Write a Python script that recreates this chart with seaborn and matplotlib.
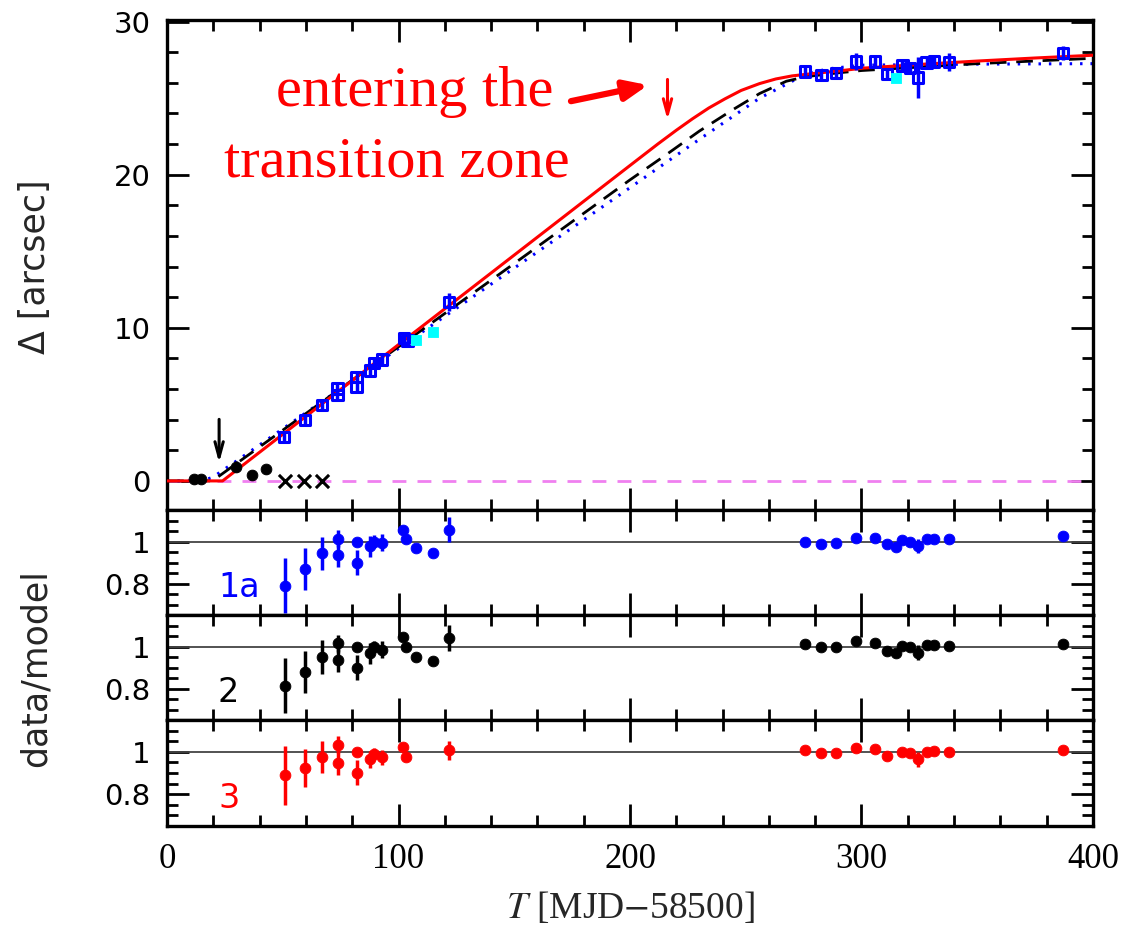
import numpy as np
import pandas as pd
import matplotlib
matplotlib.use("Agg")
import matplotlib.pyplot as plt
import seaborn as sns
from matplotlib.ticker import MultipleLocator, FixedLocator

# ---------------- data ----------------
# main panel: group 1a positions (blue open squares)
T_blue = [50.6, 59.7, 66.9, 73.6, 73.6, 81.9, 81.9, 87.6, 89.5, 92.8, 102.5, 103.9, 121.9,
          275.5, 282.7, 288.9, 297.5, 305.7, 311.1, 317.7, 320.9, 324.5, 328.1, 331.4, 337.7, 387.2]
D_blue = [2.86, 3.97, 4.94, 6.03, 5.6, 6.79, 6.14, 7.22, 7.68, 7.92, 9.35, 9.17, 11.67,
          26.74, 26.52, 26.63, 27.39, 27.39, 26.57, 27.13, 26.96, 26.35, 27.33, 27.39, 27.35, 27.93]
E_blue = [0.35, 0.35, 0.3, 0.35, 0.35, 0.35, 0.35, 0.3, 0.3, 0.3, 0.3, 0.3, 0.6,
          0.3, 0.3, 0.3, 0.55, 0.4, 0.3, 0.3, 0.3, 1.35, 0.3, 0.3, 0.6, 0.45]
# cyan squares
T_cyan = [107.5, 114.7, 314.8]
D_cyan = [9.22, 9.72, 26.3]
# early black points
T_early = [11.7, 14.6, 30.0, 36.9, 42.7]
D_early = [0.1, 0.1, 0.93, 0.39, 0.76]
E_early = [0.3, 0.3, 0.35, 0.3, 0.3]
# crosses
T_cross = [51.0, 59.2, 66.9]
D_cross = [0.0, 0.0, 0.0]

# model curves
T_red = [0, 24, 100, 150, 200, 212, 220, 227, 234, 241, 248, 256, 263, 270, 280, 290, 300, 325, 350, 375, 400]
D_red = [0, 0, 8.9, 14.75, 20.6, 22.0, 22.9, 23.65, 24.35, 24.95, 25.5, 25.95, 26.25, 26.45, 26.62,
         26.77, 26.95, 27.2, 27.42, 27.62, 27.8]
T_dash = [0, 19.6, 100, 150, 200, 215.6, 230, 244.5, 256, 267.5, 276, 290, 300, 350, 400]
D_dash = [0, 0, 8.76, 14.2, 19.66, 21.3, 22.85, 24.25, 25.3, 26.1, 26.4, 26.65, 26.8, 27.25, 27.6]
T_dot = [0, 15, 20, 23.2, 30, 100, 150, 200, 227, 256, 267.5, 275, 285, 300, 350, 400]
D_dot = [0, 0, 0.25, 0.6, 1.3, 8.65, 13.9, 19.15, 22.0, 25.0, 25.9, 26.5, 26.9, 27.15, 27.22, 27.25]

# residual panels
T_res12 = [51, 59.7, 66.9, 73.9, 73.9, 81.9, 81.9, 87.6, 89.5, 92.8, 102, 103.2, 107.5, 114.7, 121.9,
           275.5, 282.7, 288.9, 297.5, 305.7, 311.1, 314.8, 317.7, 320.9, 324.5, 328.1, 331.4, 337.7, 387.2]
R_1a = [0.79, 0.87, 0.943, 1.013, 0.938, 1.0, 0.90, 0.978, 1.0, 0.994, 1.057, 1.013, 0.967, 0.946, 1.057,
        1.0, 0.989, 0.994, 1.018, 1.018, 0.986, 0.973, 1.006, 1.0, 0.978, 1.01, 1.013, 1.01, 1.025]
R_2 = [0.814, 0.878, 0.949, 1.016, 0.937, 1.0, 0.90, 0.968, 0.997, 0.984, 1.044, 1.0, 0.952, 0.93, 1.041,
       1.013, 0.997, 1.0, 1.025, 1.016, 0.981, 0.97, 1.003, 0.997, 0.971, 1.005, 1.008, 1.002, 1.01]
E_12 = [0.13, 0.10, 0.08, 0.04, 0.06, 0.01, 0.06, 0.05, 0.03, 0.04, 0.01, 0.01, 0.01, 0.01, 0.06,
        0.01, 0.01, 0.01, 0.02, 0.01, 0.01, 0.01, 0.01, 0.01, 0.035, 0.01, 0.01, 0.015, 0.01]
T_res3 = [51, 59.7, 66.9, 73.9, 73.9, 81.9, 81.9, 87.6, 89.5, 92.8, 102, 103.2, 121.9,
          275.5, 282.7, 288.9, 297.5, 305.7, 311.1, 317.7, 320.9, 324.5, 328.1, 331.4, 337.7, 387.2]
R_3 = [0.889, 0.922, 0.976, 1.032, 0.949, 1.0, 0.901, 0.965, 0.989, 0.973, 1.024, 0.976, 1.008,
       1.008, 0.994, 0.995, 1.02, 1.013, 0.978, 1.0, 0.994, 0.965, 1.0, 1.005, 0.997, 1.008]
E_3 = [0.14, 0.09, 0.075, 0.04, 0.06, 0.01, 0.06, 0.04, 0.03, 0.035, 0.01, 0.01, 0.045,
       0.01, 0.01, 0.01, 0.02, 0.01, 0.01, 0.01, 0.01, 0.035, 0.01, 0.01, 0.015, 0.01]

panel_labels = ["1a", "2", "3"]
panel_colors = ["blue", "black", "red"]

# ---------------- style ----------------
sns.set_style("ticks")
plt.rcParams['font.family'] = ['DejaVu Sans']
plt.rcParams['axes.linewidth'] = 2.4
plt.rcParams['mathtext.fontset'] = 'stix'

fig = plt.figure(figsize=(11.44, 9.31), dpi=100)
L, W = 0.146, 0.8094
ax = fig.add_axes([L, 0.4522, W, 0.5263])
r1 = fig.add_axes([L, 0.3394, W, 0.1128])
r2 = fig.add_axes([L, 0.2266, W, 0.1128])
r3 = fig.add_axes([L, 0.1128, W, 0.1139])


def style(a):
    a.set_xlim(0, 400)
    a.xaxis.set_major_locator(MultipleLocator(100))
    a.xaxis.set_minor_locator(MultipleLocator(20))
    a.tick_params(which='both', direction='in', top=True, right=True, width=2, colors='black')
    a.tick_params(which='major', length=16, labelsize=21)
    a.tick_params(which='minor', length=8)
    for s in a.spines.values():
        s.set_linewidth(2.4)
        s.set_color('black')


# ---------------- main panel ----------------
style(ax)
ax.set_ylim(-1.9, 30.1)
ax.yaxis.set_major_locator(MultipleLocator(10))
ax.yaxis.set_minor_locator(MultipleLocator(2))
ax.tick_params(axis='y', pad=12)
ax.set_xticklabels([])

ax.axhline(0, color='#f080f0', lw=2, ls=(0, (5, 4)), zorder=1)
sns.lineplot(x=T_dot, y=D_dot, ax=ax, color='blue', lw=2.2, ls=(0, (0.8, 2.6)), sort=False,
             estimator=None, zorder=2)
sns.lineplot(x=T_dash, y=D_dash, ax=ax, color='black', lw=2, ls=(0, (6, 3.5)), sort=False,
             estimator=None, zorder=3)
sns.lineplot(x=T_red, y=D_red, ax=ax, color='red', lw=2.2, sort=False, estimator=None, zorder=4)

ax.errorbar(T_blue, D_blue, yerr=E_blue, fmt='none', ecolor='blue', elinewidth=2.5, capsize=0, zorder=5)
sns.scatterplot(x=T_blue, y=D_blue, ax=ax, marker='s', s=55, fc='none', ec='blue', linewidth=2.2,
                zorder=6)
sns.scatterplot(x=T_cyan, y=D_cyan, ax=ax, marker='s', s=60, color='cyan', ec='cyan', zorder=6)
ax.errorbar(T_early, D_early, yerr=E_early, fmt='none', ecolor='black', elinewidth=2.5, capsize=0, zorder=5)
sns.scatterplot(x=T_early, y=D_early, ax=ax, marker='o', s=60, color='black', ec='black', zorder=6)
sns.scatterplot(x=T_cross, y=D_cross, ax=ax, marker='x', s=90, color='black', linewidth=2.2, zorder=6)

ax.annotate('', xy=(22.5, 1.0), xytext=(22.5, 4.2),
            arrowprops=dict(arrowstyle='->,head_length=1.1,head_width=0.3', color='black', lw=2.2))
ax.annotate('', xy=(216.2, 23.4), xytext=(216.2, 26.4),
            arrowprops=dict(arrowstyle='->,head_length=1.1,head_width=0.3', color='red', lw=2.2))
ax.annotate('', xy=(207.8, 25.85), xytext=(174.5, 24.8),
            arrowprops=dict(arrowstyle='-|>,head_length=0.7,head_width=0.3', color='red', lw=4.5,
                            mutation_scale=20, shrinkA=0, shrinkB=0))
ax.text(47.1, 24.46, "entering the", color='red', fontsize=42, family='Liberation Serif',
        va='baseline', ha='left')
ax.text(24.6, 19.9, "transition zone", color='red', fontsize=42, family='Liberation Serif',
        va='baseline', ha='left')
ax.set_ylabel("")
ax.set_xlabel("")
fig.text(0.031, 1 - 267 / 931, "Δ [arcsec]", rotation=90, fontsize=25, va='center', ha='center')

# ---------------- residual panels ----------------
res_data = [(r1, T_res12, R_1a, E_12), (r2, T_res12, R_2, E_12), (r3, T_res3, R_3, E_3)]
for (a, T, R, E), lab, col in zip(res_data, panel_labels, panel_colors):
    style(a)
    a.set_ylim(0.65, 1.15)
    a.yaxis.set_major_locator(FixedLocator([0.8, 1.0]))
    a.yaxis.set_minor_locator(MultipleLocator(0.05))
    a.set_yticklabels(["0.8", "1"])
    a.tick_params(axis='y', pad=12)
    a.axhline(1.0, color='#444444', lw=1.3, zorder=1)
    a.errorbar(T, R, yerr=E, fmt='none', ecolor=col, elinewidth=2.5, capsize=0, zorder=3)
    sns.scatterplot(x=T, y=R, ax=a, marker='o', s=60, color=col, ec=col, zorder=4)
    a.text(22, 0.78, lab, color=col, fontsize=24, family='DejaVu Sans', va='center', ha='left')
    if a is not r3:
        a.set_xticklabels([])

r3.set_xticks([0, 100, 200, 300, 400])
r3.set_xticklabels(["0", "100", "200", "300", "400"], family='Liberation Serif', fontsize=25)
r3.tick_params(axis='x', pad=12)
r3.set_xlabel(r"$T$ [MJD$-$58500]", fontsize=27, family='Liberation Serif', labelpad=10)
fig.text(0.031, 1 - 668 / 931, "data/model", rotation=90, fontsize=25, va='center', ha='center')

fig.savefig("out.png", dpi=100)
